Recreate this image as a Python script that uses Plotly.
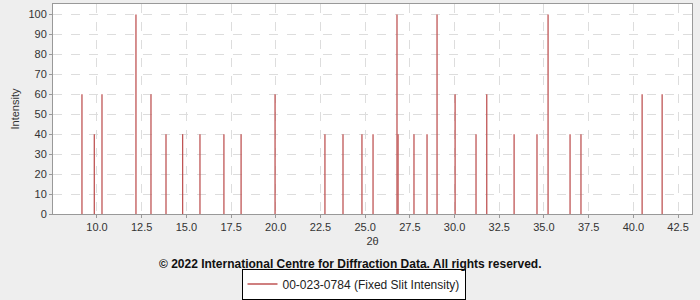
import plotly.graph_objects as go

two_theta = [9.16, 9.85, 10.28, 12.18, 13.02, 13.86, 14.79, 15.76, 17.10, 18.06, 19.96,
             22.75, 23.76, 24.82, 25.44, 26.78, 26.84, 27.73, 28.46, 29.02, 30.03, 31.20,
             31.80, 33.33, 34.61, 35.23, 36.46, 37.07, 40.49, 41.61]
intensity = [60, 40, 60, 100, 60, 40, 40, 40, 40, 40, 60,
             40, 40, 40, 40, 100, 40, 40, 40, 100, 60, 40,
             60, 40, 40, 100, 40, 40, 60, 60]
x_ticks = [10.0, 12.5, 15.0, 17.5, 20.0, 22.5, 25.0, 27.5, 30.0, 32.5, 35.0, 37.5, 40.0, 42.5]
y_ticks = list(range(0, 101, 10))

xs, ys = [], []
for x, y in zip(two_theta, intensity):
    xs += [x, x, None]
    ys += [0, y, None]

color = "#bf5555"
fig = go.Figure()
fig.add_trace(go.Scatter(x=xs, y=ys, mode="lines", line=dict(color=color, width=1.3),
                         name="00-023-0784 (Fixed Slit Intensity)", showlegend=True))

font = "Liberation Sans, Arial, sans-serif"
fig.update_layout(
    width=700, height=300,
    margin=dict(l=53, r=8, t=4, b=86),
    paper_bgcolor="#eeeeee", plot_bgcolor="white",
    font=dict(family=font, size=11, color="#333333"),
    xaxis=dict(range=[7.54, 43.28], tickvals=x_ticks, ticktext=[f"{v:.1f}" for v in x_ticks],
               showgrid=True, gridcolor="#dddddd", griddash="dash", gridwidth=1,
               zeroline=False, showline=True, linecolor="#999999", mirror=True,
               ticks="outside", ticklen=3, tickcolor="#999999",
               title=dict(text="2θ", font=dict(size=11, color="#333333"), standoff=5)),
    yaxis=dict(range=[0, 105.2], tickvals=y_ticks,
               showgrid=True, gridcolor="#dddddd", griddash="dash", gridwidth=1,
               zeroline=False, showline=True, linecolor="#999999", mirror=True,
               ticks="outside", ticklen=3, tickcolor="#999999",
               title=dict(text="Intensity", font=dict(size=11, color="#333333"), standoff=6)),
    legend=dict(orientation="h", x=0.295, xanchor="left", y=0.105, yanchor="top",
                yref="container", bordercolor="black", borderwidth=1, bgcolor="white",
                font=dict(size=12, color="#222222"), itemwidth=30),
    annotations=[dict(text="<b>© 2022 International Centre for Diffraction Data. All rights reserved.</b>",
                      xref="paper", yref="paper", x=0.465, y=-0.24, xanchor="center", yanchor="middle",
                      showarrow=False, font=dict(size=12, color="#111111"))],
)
fig.write_html("out.html")
